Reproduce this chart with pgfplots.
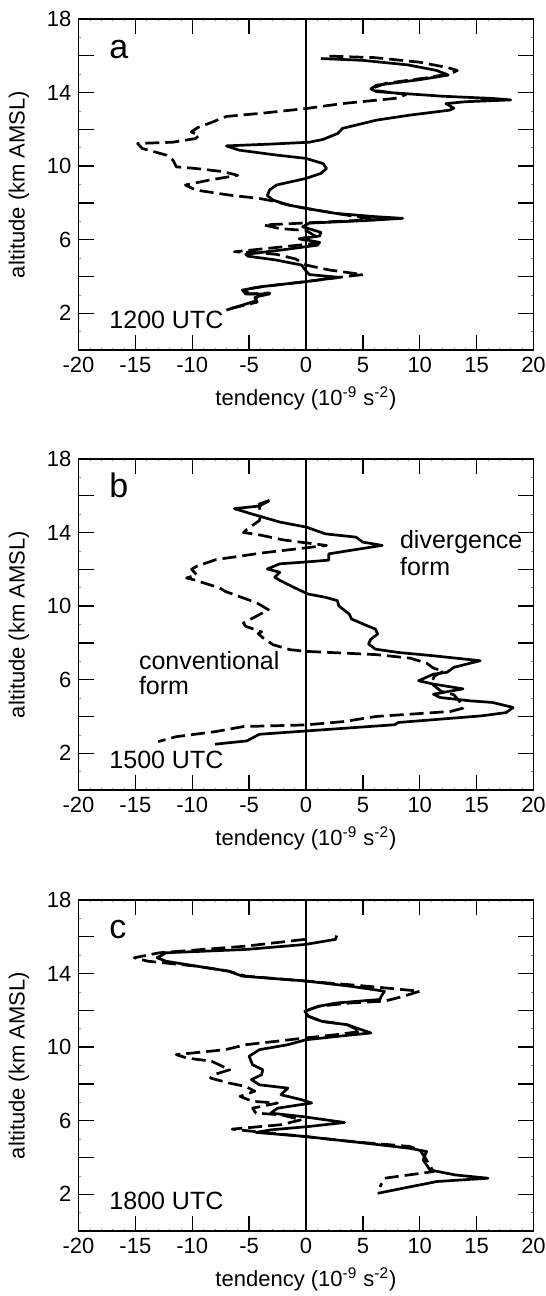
\documentclass[border=0pt]{standalone}
\usepackage{fontspec}
\setmainfont{Liberation Sans}
\usepackage{pgfplots}
\pgfplotsset{compat=1.18}

\pgfplotsset{
  panel/.style={
    scale only axis, width=227.5pt, height=165.5pt,
    xmin=-20, xmax=20, ymin=0, ymax=18,
    xtick={-20,-15,...,20}, ytick={0,2,...,18},
    yticklabels={,2,,6,,10,,14,,18},
    minor x tick num=4, minor y tick num=1,
    tick align=inside, tick pos=both,
    major tick length=7.5pt, minor tick length=1.2pt,
    major tick style={line width=0.7pt, black},
    minor tick style={line width=0.3pt, black!50},
    axis line style={line width=0.9pt},
    /pgf/number format/assume math mode=true,
    tick label style={font=\fontsize{11}{13}\selectfont},
    label style={font=\fontsize{11}{13}\selectfont},
    xlabel={tendency (10\textsuperscript{-9} s\textsuperscript{-2})},
    ylabel={altitude (km AMSL)},
    xlabel style={at={(axis description cs:0.5,-0.145)}, anchor=center},
    ylabel style={at={(axis description cs:-0.131,0.5)}, anchor=center},
  },
  sol/.style={black, line width=1.35pt, line join=round, no markers},
  das/.style={black, line width=1.35pt, dash pattern=on 7pt off 3pt, line join=round, no markers},
  zero/.style={black, line width=0.6pt, no markers},
}
\newcommand{\ann}{\fontsize{12.5}{14}\selectfont}
\newcommand{\lett}{\fontsize{17}{19}\selectfont}

\begin{document}
\begin{tikzpicture}
\path[use as bounding box] (0,0) rectangle (273pt,648pt);

% ---------------- panel a: 1200 UTC
\begin{axis}[panel, at={(39.25pt,473pt)}, anchor=south west]
\addplot[zero] coordinates {(0,0) (0,18)};
\addplot[das] coordinates {
(2.05,15.98) (6,15.9) (10,15.65) (12.5,15.35) (13.3,15.2) (12.8,15.05) (10.6,14.8)
(7.0,14.5) (5.9,14.25) (6.2,14.1) (8.8,13.9) (8.1,13.7) (3.2,13.4) (0,13.13)
(-3.5,12.9) (-7.0,12.7) (-8.2,12.4) (-9.5,12.1) (-10.1,11.86) (-9.4,11.68) (-9.7,11.5)
(-11.7,11.3) (-14.8,11.23) (-14.4,10.96) (-12.3,10.6) (-11.7,10.33) (-11.4,9.96)
(-9.7,9.87) (-7.3,9.7) (-6.0,9.5) (-8.5,9.24) (-10.6,8.97) (-9.7,8.7) (-6.7,8.42)
(-4.1,8.24) (-3.3,8.15) (-1.5,7.88) (0,7.7) (2.6,7.43) (5.0,7.2) (6.5,7.1) (3,7.0)
(-3.7,6.8) (-2.3,6.6) (0,6.5) (0.8,6.2) (-0.6,6.05) (0.3,5.9) (0.9,5.8) (-3,5.55)
(-6.3,5.34) (-4.5,5.3) (-2.6,5.2) (-0.9,4.95) (0,4.62) (2.05,4.35) (5.0,4.1)
(2.9,3.95) (0,3.72) (-3.8,3.45) (-5.4,3.3) (-5.0,3.05) (-3.2,3.1) (-4.5,2.85)
(-4.3,2.6) (-7.0,2.2)};
\addplot[sol] coordinates {
(1.3,15.85) (5,15.75) (9,15.5) (11.5,15.2) (12.5,14.95) (10,14.7) (7.5,14.5)
(6.2,14.4) (5.7,14.2) (6.2,14.05) (8.5,13.95) (12,13.8) (16.4,13.68) (18.0,13.6)
(14,13.5) (12.3,13.4) (13.0,13.15) (12.6,13.04) (9.1,12.77) (6.2,12.5) (3.2,12.05)
(2.8,11.78) (1.5,11.45) (0.3,11.3) (-3,11.2) (-7.0,11.1) (-5.9,10.87) (-2.6,10.6)
(0,10.42) (1.5,10.14) (1.8,9.87) (1.3,9.6) (0,9.33) (-2.6,8.97) (-3.2,8.7)
(-3.4,8.4) (-2.9,8.15) (-1.5,7.88) (0,7.7) (2.6,7.43) (6.1,7.25) (8.5,7.16)
(5.0,7.03) (0.3,6.9) (-0.3,6.7) (1.3,6.4) (1.2,6.2) (-0.5,6.05) (1.2,5.85)
(1.0,5.7) (-2,5.45) (-5.3,5.2) (-5.1,5.1) (-2.7,4.9) (-0.4,4.62) (0,4.3)
(0.3,4.1) (2.9,3.95) (0,3.72) (-3.8,3.45) (-5.6,3.26) (-5.3,3.05) (-3.2,3.05)
(-4.3,2.9) (-4.5,2.65) (-7.0,2.17)};
\node[anchor=base west, font=\lett] at (axis cs:-17.9,15.85) {a};
\node[anchor=base west, font=\ann] at (axis cs:-17.9,1.18) {1200 UTC};
\end{axis}

% ---------------- panel b: 1500 UTC
\begin{axis}[panel, at={(39.25pt,253pt)}, anchor=south west]
\addplot[zero] coordinates {(0,0) (0,18)};
\addplot[das] coordinates {
(-3.3,15.7) (-4.1,15.45) (-4.0,14.9) (-4.1,14.65) (-5.2,14.17) (-5.5,14.0)
(-4.3,13.9) (-2.0,13.6) (0,13.44) (1.8,13.3) (0,13.17) (-3.75,12.9) (-7.9,12.53)
(-9.6,12.17) (-10.06,12.0) (-9.6,11.7) (-10.5,11.53) (-9.9,11.44) (-7.6,10.99)
(-7.1,10.8) (-4.3,10.17) (-3.3,9.8) (-5.5,9.08) (-5.3,8.9) (-3.9,8.6) (-4.2,8.5)
(-3.75,8.26) (-2.9,7.9) (-1.4,7.63) (0,7.54) (6.2,7.36) (9.15,7.17) (10.6,6.9)
(11.2,6.63) (12.1,6.45) (11.3,6.2) (11.0,5.8) (11.9,5.36) (13.0,5.18) (13.5,4.81)
(13.8,4.45) (12.7,4.27) (6.2,4.0) (3.3,3.72) (0,3.54) (-5.5,3.45) (-7.9,3.18)
(-11.4,2.9) (-13.0,2.63)};
\addplot[sol] coordinates {
(-3.2,15.75) (-4.1,15.55) (-4.0,15.45) (-6.3,15.3) (-4.7,15.0) (-2.3,14.57)
(0,14.3) (1.7,13.93) (4.4,13.75) (5.0,13.48) (6.7,13.3) (3.8,13.02) (2.0,12.84)
(2.0,12.5) (0,12.4) (-2.3,12.3) (-3.4,12.02) (-2.3,11.84) (-2.75,11.57) (-2.3,11.4)
(-1.4,11.12) (-0.46,10.84) (0.15,10.66) (1.7,10.48) (2.75,10.3) (2.9,10.0)
(3.8,9.57) (4.0,9.3) (5.0,9.03) (6.1,8.75) (6.3,8.48) (5.7,8.2) (5.5,7.94)
(6.1,7.66) (8.1,7.48) (11.2,7.3) (15.3,7.03) (13.0,6.67) (12.4,6.4) (11.2,6.3)
(9.9,5.94) (11.2,5.76) (13.8,5.5) (11.2,5.21) (11.8,5.03) (14.4,4.85) (16.4,4.76)
(18.2,4.49) (17.6,4.21) (15.4,4.03) (8.1,3.67) (7.8,3.55) (0,3.21) (-4.1,3.03)
(-5.2,2.67) (-8.0,2.49)};
\node[anchor=base west, font=\lett] at (axis cs:-17.9,15.9) {b};
\node[anchor=base west, font=\ann] at (axis cs:-17.9,1.18) {1500 UTC};
\node[anchor=base west, font=\ann] at (axis cs:7.65,13.11) {divergence};
\node[anchor=base west, font=\ann] at (axis cs:7.65,11.66) {form};
\node[anchor=base west, font=\ann] at (axis cs:-15.3,6.57) {conventional};
\node[anchor=base west, font=\ann] at (axis cs:-15.3,5.21) {form};
\end{axis}

% ---------------- panel c: 1800 UTC
\begin{axis}[panel, at={(39.25pt,32.5pt)}, anchor=south west]
\addplot[zero] coordinates {(0,0) (0,18)};
\addplot[das] coordinates {
(-0.1,15.86) (-5.3,15.49) (-12.9,15.13) (-15.1,14.86) (-13.9,14.67) (-9.6,14.4)
(-6.8,14.13) (-5.3,13.86) (0,13.59) (5.4,13.31) (10.0,13.04) (8.5,12.75) (6.9,12.5)
(3.9,12.4) (1.1,12.22) (-0.1,11.95) (0.2,11.68) (1.4,11.4) (3.6,11.22) (4.8,10.86)
(3,10.7) (0,10.5) (-5.3,10.13) (-7.1,9.86) (-11.4,9.59) (-10.5,9.41) (-8.3,9.23)
(-6.7,8.77) (-8.1,8.5) (-8.4,8.32) (-6.8,8.05) (-5.3,7.86) (-4.5,7.6) (-5.8,7.32)
(-4.7,7.05) (-2.5,6.96) (-4.7,6.68) (-4.4,6.41) (-2.2,6.32) (-0.4,6.05) (-2.2,5.78)
(-6.5,5.54) (-4.4,5.4) (-0.1,5.14) (3.9,4.87) (9.1,4.6) (10.0,4.41) (10.5,3.96)
(11.2,3.23) (6.9,2.87) (6.5,2.4)};
\addplot[sol] coordinates {
(2.7,16.07) (2.6,15.86) (-0.1,15.58) (-5.3,15.31) (-12.3,15.13) (-13.1,14.86)
(-12.3,14.67) (-9.6,14.4) (-6.8,14.13) (-5.6,13.86) (0.06,13.59) (3.9,13.31)
(6.9,13.04) (6.6,12.75) (6.5,12.59) (2.7,12.4) (1.1,12.22) (-0.1,11.95) (0.2,11.68)
(1.4,11.4) (3.6,11.22) (5.7,10.77) (3,10.6) (0,10.4) (-1.6,10.13) (-4.1,9.86)
(-5.0,9.5) (-4.7,9.04) (-3.8,8.77) (-3.9,8.5) (-4.8,8.23) (-4.1,7.95) (-1.6,7.77)
(-2.2,7.41) (-0.4,7.14) (0.5,6.96) (-2.5,6.68) (-3.1,6.41) (-0.4,6.23) (3.4,5.9)
(0.2,5.68) (-3.1,5.5) (-4.4,5.36) (-0.1,5.14) (3.9,4.87) (9.1,4.5) (10.6,4.32)
(10.3,3.87) (10.9,3.32) (13.1,3.05) (16.0,2.87) (11.5,2.69) (6.3,2.05)};
\node[anchor=base west, font=\lett] at (axis cs:-17.9,15.9) {c};
\node[anchor=base west, font=\ann] at (axis cs:-17.9,1.18) {1800 UTC};
\end{axis}
\end{tikzpicture}
\end{document}
